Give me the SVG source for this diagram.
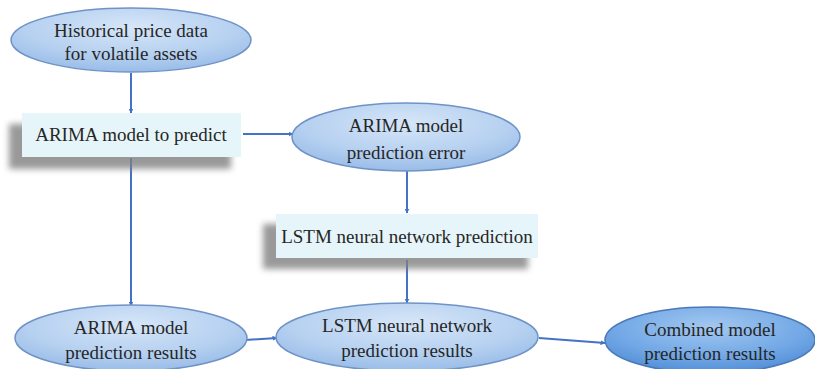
<svg xmlns="http://www.w3.org/2000/svg" width="815" height="369" viewBox="0 0 815 369">
<defs>
<radialGradient id="gE" cx="0.5" cy="0.3" r="0.75">
<stop offset="0" stop-color="#d6e6f8"/>
<stop offset="0.6" stop-color="#b5d0f0"/>
<stop offset="1" stop-color="#93b8e6"/>
</radialGradient>
<radialGradient id="gC" cx="0.5" cy="0.3" r="0.75">
<stop offset="0" stop-color="#a3c8f0"/>
<stop offset="0.6" stop-color="#72a8e6"/>
<stop offset="1" stop-color="#4c89d3"/>
</radialGradient>
<filter id="sh" x="-20%" y="-40%" width="140%" height="180%">
<feGaussianBlur stdDeviation="3"/>
</filter>
<marker id="ah" viewBox="0 0 10 10" refX="9" refY="5" markerWidth="5" markerHeight="5" orient="auto" markerUnits="userSpaceOnUse">
<path d="M0,0 L10,5 L0,10 z" fill="#4472c4"/>
</marker>
<style>
.ell{fill:url(#gE);stroke:#6f93c6;stroke-width:1.5}
.ellc{fill:url(#gC);stroke:#4a78b8;stroke-width:1.5}
.box{fill:#e6f5f9}
.shadow{fill:#808080;opacity:0.8;filter:url(#sh)}
.t{font-size:19px;fill:#262626;text-anchor:middle}
.c{stroke:#4472c4;stroke-width:2;fill:none;marker-end:url(#ah)}
</style>
</defs>
<g id="connectors">
<line class="c" x1="131" y1="73" x2="131" y2="113"/>
<line class="c" x1="243" y1="134" x2="293" y2="134"/>
<line class="c" x1="131" y1="158" x2="131" y2="306"/>
<line class="c" x1="407" y1="171" x2="407" y2="213"/>
<line class="c" x1="407" y1="260" x2="407" y2="303"/>
<line class="c" x1="245" y1="340" x2="277" y2="338"/>
<line class="c" x1="539" y1="338" x2="605" y2="343"/>
</g>
<g font-family="'Liberation Serif', 'Times New Roman', Times, serif">
<g id="n1">
<ellipse class="ell" cx="131" cy="40" rx="120" ry="32"/>
<text class="t" x="131" y="37">Historical price data</text>
<text class="t" x="131" y="60">for volatile assets</text>
</g>
<g id="n2">
<rect class="shadow" x="9" y="124" width="222" height="45"/>
<rect class="box" x="22" y="113" width="219" height="44"/>
<text class="t" x="131" y="141">ARIMA model to predict</text>
</g>
<g id="n3">
<ellipse class="ell" cx="406" cy="137" rx="114" ry="34"/>
<text class="t" x="406" y="132">ARIMA model</text>
<text class="t" x="406" y="159">prediction error</text>
</g>
<g id="n4">
<rect class="shadow" x="263" y="224" width="265" height="45"/>
<rect class="box" x="276" y="214" width="262" height="44"/>
<text class="t" x="407" y="243">LSTM neural network prediction</text>
</g>
<g id="n5">
<ellipse class="ell" cx="131" cy="338" rx="116" ry="33"/>
<text class="t" x="131" y="334">ARIMA model</text>
<text class="t" x="131" y="359">prediction results</text>
</g>
<g id="n6">
<ellipse class="ell" cx="407" cy="337" rx="131" ry="34"/>
<text class="t" x="407" y="332">LSTM neural network</text>
<text class="t" x="407" y="357">prediction results</text>
</g>
<g id="n7">
<ellipse class="ellc" cx="710" cy="340" rx="105" ry="33"/>
<text class="t" x="710" y="336">Combined model</text>
<text class="t" x="710" y="360">prediction results</text>
</g>
</g>
</svg>
